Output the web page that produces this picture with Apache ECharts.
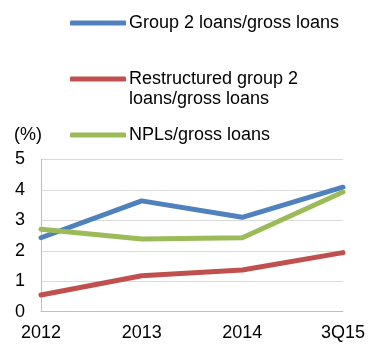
<!DOCTYPE html>
<html><head><meta charset="utf-8">
<script src="https://cdn.jsdelivr.net/npm/echarts@6/dist/echarts.min.js"></script>
<style>html,body{margin:0;padding:0;background:#fff}#c{width:368px;height:345px}</style>
</head><body><div id="c"></div>
<script>
const categories = ['2012', '2013', '2014', '3Q15'];
const group2 = [2.43, 3.64, 3.10, 4.09];
const restructured = [0.55, 1.18, 1.37, 1.94];
const npls = [2.71, 2.39, 2.43, 3.93];
const seriesNames = ['Group 2 loans/gross loans', 'Restructured group 2\nloans/gross loans', 'NPLs/gross loans'];
const colors = ['#4f81bd', '#c0504d', '#9bbb59'];
const FONT = 'Liberation Sans, Arial, sans-serif';
const FS = 18;

const chart = echarts.init(document.getElementById('c'));
function leg(i, top, formatter) {
  return {
    data: [seriesNames[i]], left: 70, top: top, orient: 'vertical',
    icon: 'roundRect', itemWidth: 56, itemHeight: 5, itemGap: 0, padding: 0,
    selectedMode: false,
    formatter: formatter,
    textStyle: { fontFamily: FONT, fontSize: FS, color: '#000', padding: [0, 0, 0, -2], lineHeight: 20 }
  };
}
chart.setOption({
  animation: false,
  color: colors,
  grid: { left: 41, right: 25, top: 159.5, bottom: 33.3, containLabel: false },
  legend: [
    leg(0, 13),
    leg(1, 49, function (n) { return ' \n' + n; }),
    leg(2, 125)
  ],
  xAxis: {
    type: 'category', data: categories, boundaryGap: false,
    axisLine: { show: true, lineStyle: { color: '#bfbfbf', width: 1 } },
    axisTick: { show: false },
    axisLabel: { fontFamily: FONT, fontSize: FS, color: '#000', margin: 12 },
    splitLine: { show: false }
  },
  yAxis: {
    type: 'value', min: 0, max: 5, interval: 1,
    name: '(%)', nameLocation: 'end', nameGap: 15,
    nameTextStyle: { fontFamily: FONT, fontSize: FS, color: '#000', align: 'right', padding: [0, -1, 0, 0] },
    axisLine: { show: true, lineStyle: { color: '#bfbfbf', width: 1 } },
    axisTick: { show: false },
    axisLabel: { fontFamily: FONT, fontSize: FS, color: '#000', margin: 16 },
    splitLine: { show: true, lineStyle: { color: '#d9d9d9', width: 1 } }
  },
  series: [
    { name: seriesNames[0], type: 'line', data: group2, symbol: 'none', lineStyle: { width: 5, cap: 'round', join: 'round' } },
    { name: seriesNames[1], type: 'line', data: restructured, symbol: 'none', lineStyle: { width: 5, cap: 'round', join: 'round' } },
    { name: seriesNames[2], type: 'line', data: npls, symbol: 'none', lineStyle: { width: 5, cap: 'round', join: 'round' } }
  ]
});
</script></body></html>
